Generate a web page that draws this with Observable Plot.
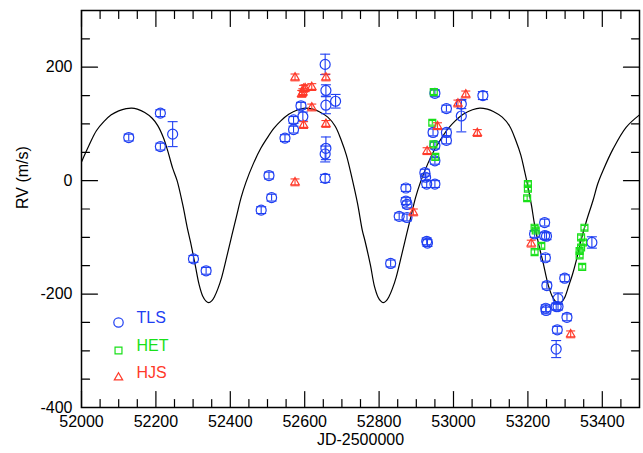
<!DOCTYPE html>
<html><head><meta charset="utf-8">
<script src="https://cdn.jsdelivr.net/npm/d3@7"></script>
<script src="https://cdn.jsdelivr.net/npm/@observablehq/plot@0.6"></script>
<style>
body{margin:0;background:#fff;}
#chart{width:643px;height:453px;}
</style></head><body><div id="chart"></div>
<script>
// ---- TLS (blue circles): day, RV, error
const tlsDay = [52127,52212,52212,52245,52301,52335,52483,52504,52511,52547,52570,52570,52590,52595,52655,52657,52657,52683,52657,52655,52655,
  52831,52854,52872,52872,52875,52875,52923,52925,52928,52928,52930,52950,52950,52981,52945,52981,52981,52950,52950,53021,53021,53079,
  53218,53245,53245,53250,53247,53251,53299,53281,53248,53249,53276,53281,53305,53279,53276,53372];
const tlsRV = [76,119,60,82,-138,-159,-52,9,-30,75,90,107,132,113,205,159,133,140,57,47,4,
  -146,-63,-13,-36,-42,-65,14,6,-6,-107,-110,-6,154,127,85,85,71,62,35,135,114,150,
  -94,-74,-97,-98,-136,-185,-172,-208,-225,-229,-222,-222,-241,-263,-297,-109];
const tlsErr = [6,6,6,22,6,6,6,6,6,6,6,6,6,8,18,10,15,12,20,14,7,
  6,6,6,6,6,6,6,6,6,6,6,6,6,6,6,6,6,6,6,8,28,7,
  6,6,6,6,6,6,6,10,6,6,6,6,6,6,15,10];

// ---- HET (green squares)
const hetDay = [52947,52943,52946,52951,53200,53200,53198,53218,53221,53236,53218,53352,53343,53348,53343,53339,53339,53346];
const hetRV  = [156,102,64,42,-6,-14,-31,-83,-88,-115,-126,-83,-100,-109,-118,-124,-132,-152];
const hetErr = [4,4,4,4,4,4,4,4,4,4,4,4,4,4,4,4,4,4];

// ---- HJS (red triangles)
const hjsDay = [52574,52574,52597,52601,52595,52592,52619,52619,52597,52657,52657,52892,52929,52957,53012,53033,53064,53209,53315];
const hjsRV  = [182,-3,162,163,156,153,165,129,98,182,100,-56,52,96,136,152,84,-111,-271];
const hjsErr = [6,6,6,6,6,6,6,6,6,6,6,6,6,6,6,6,6,6,6];

// ---- Orbital fit curve
const fitDay = [52000,52020,52040,52060,52080,52100,52120,52135,52150,52170,52190,52205,52220,52232,52245,52257,52272,52285,52293,52306,52316,52326,52334,52342,
  52350,52358,52367,52377,52392,52404,52417,52429,52442,52462,52482,52499,52517,52535,52557,52582,52602,52622,52638,52662,52682,52699,52712,52727,52742,52755,52762,52777,52787,52797,52804,52811,
  52819,52827,52836,52846,52861,52873,52886,52898,52911,52931,52951,52968,52986,53004,53026,53051,53071,53091,53107,53131,53151,53168,53181,53190,53200,53210,53218,53230,53241,53255,53267,53276,53284,
  53292,53299,53310,53320,53330,53343,53357,53375,53388,53402,53429,53464,53500];
const fitRV = [33,62,88,104,116,123,127,128,126,120,110,97,76,52,22,0,-42,-85,-108,-150,-183,-204,-212,-215,
  -212,-204,-190,-170,-130,-97,-62,-30,-3,30,57,75,92,105,117,125,128,126,122,112,96,70,45,5,-40,-88,-106,-150,-185,-205,-212,-215,
  -212,-204,-190,-170,-130,-97,-62,-30,-3,30,57,75,92,105,117,125,128,126,122,112,96,70,45,20,-10,-45,-78,-115,-145,-185,-206,-214,-216,
  -213,-206,-185,-165,-141,-105,-72,-35,-5,18,56,94,116];

// ---- Ticks and labels
const xMajorTicks = [52000,52200,52400,52600,52800,53000,53200,53400];
const xMinorTicks = [52050,52100,52150,52250,52300,52350,52450,52500,52550,52650,52700,52750,52850,52900,52950,53050,53100,53150,53250,53300,53350,53450];
const yMajorTicks = [-400,-200,0,200];
const yMinorTicks = [-350,-300,-250,-150,-100,-50,50,100,150,250];
const seriesNames = ["TLS","HET","HJS"];
const seriesColors = ["#1f3ff2","#19e019","#ff3a2a"];
const xLabel = "JD-2500000";
const yLabel = "RV (m/s)";

const tls = tlsDay.map((d,i)=>({day:d, rv:tlsRV[i], err:tlsErr[i]}));
const het = hetDay.map((d,i)=>({day:d, rv:hetRV[i], err:hetErr[i]}));
const hjs = hjsDay.map((d,i)=>({day:d, rv:hjsRV[i], err:hjsErr[i]}));
const fit = fitDay.map((d,i)=>({day:d, rv:fitRV[i]}));

const cap = {draw(context, size){ const w = Math.sqrt(size/Math.PI); context.moveTo(-w,0); context.lineTo(w,0); }};
const tickShape = {draw(context, l){ context.moveTo(0,0); context.lineTo(0,-l); }};

function series(data, color, symbol, r, capR){
  return [
    Plot.ruleX(data, {x:"day", y1:d=>d.rv-d.err, y2:d=>d.rv+d.err, stroke:color, strokeWidth:1.1}),
    Plot.dot(data, {x:"day", y:d=>d.rv+d.err, symbol:cap, r:capR, stroke:color, fill:"none", strokeWidth:1.1}),
    Plot.dot(data, {x:"day", y:d=>d.rv-d.err, symbol:cap, r:capR, stroke:color, fill:"none", strokeWidth:1.1}),
    Plot.dot(data, {x:"day", y:"rv", symbol, r, stroke:color, fill:"none", strokeWidth:1.2})
  ];
}

function ticksX(values, anchor, len){
  return Plot.vector(values, {x:d=>d, frameAnchor:anchor, length:len, rotate: anchor==="bottom" ? 0 : 180,
    anchor:"start", shape:tickShape, stroke:"black", strokeWidth:1.2});
}
function ticksY(values, anchor, len){
  return Plot.vector(values, {y:d=>d, frameAnchor:anchor, length:len, rotate: anchor==="left" ? 90 : -90,
    anchor:"start", shape:tickShape, stroke:"black", strokeWidth:1.2});
}

const fontFamily = '"Liberation Sans", Arial, Helvetica, sans-serif';
const legendSymbols = ["circle","square","triangle"];
const legendR = [4.7, 3.9, 3.1];
const legendDy = [-85, -57, -30];

const plot = Plot.plot({
  width: 643, height: 453,
  marginLeft: 81, marginRight: 4, marginTop: 10, marginBottom: 46,
  style: {fontFamily, fontSize: "16px", background: "white", color: "black"},
  x: {domain: [52000, 53500]},
  y: {domain: [-400, 300]},
  marks: [
    Plot.line(fit, {x:"day", y:"rv", stroke:"black", strokeWidth:1.2, curve:"catmull-rom"}),
    ...series(tls, seriesColors[0], "circle", 5, 5),
    ...series(het, seriesColors[1], "square", 3.9, 3.5),
    ...series(hjs, seriesColors[2], "triangle", 3.1, 4.5),
    Plot.axisX(xMajorTicks, {anchor:"bottom", tickSize:0, tickPadding:8, tickFormat:d=>String(d), fontSize:16, label:null}),
    Plot.axisY(yMajorTicks, {anchor:"left", tickSize:0, tickPadding:9, tickFormat:d=>String(d), fontSize:16, label:null}),
    ticksX(xMajorTicks, "bottom", 16), ticksX(xMinorTicks, "bottom", 8),
    ticksX(xMajorTicks, "top", 16), ticksX(xMinorTicks, "top", 8),
    ticksY(yMajorTicks, "left", 16), ticksY(yMinorTicks, "left", 8),
    ticksY(yMajorTicks, "right", 16), ticksY(yMinorTicks, "right", 8),
    Plot.frame({stroke:"black", strokeWidth:1.5}),
    Plot.text([xLabel], {frameAnchor:"bottom", dy:37, fontSize:16}),
    Plot.text([yLabel], {frameAnchor:"left", dx:-59, rotate:-90, fontSize:16}),
    ...seriesNames.flatMap((name,i)=>[
      Plot.dot([name], {frameAnchor:"bottom-left", dx:37, dy:legendDy[i], symbol:legendSymbols[i], r:legendR[i], stroke:seriesColors[i], fill:"none", strokeWidth:1.2}),
      Plot.text([name], {frameAnchor:"bottom-left", dx:55, dy:legendDy[i], textAnchor:"start", fill:seriesColors[i], fontSize:16})
    ])
  ]
});
document.getElementById("chart").appendChild(plot);
</script>
</body></html>
